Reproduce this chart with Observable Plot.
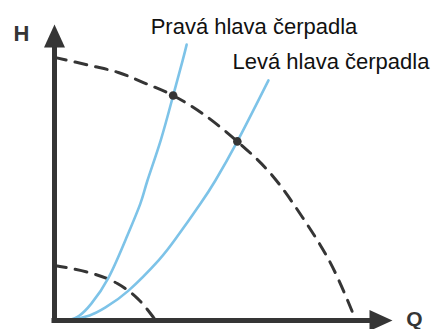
<!DOCTYPE html>
<html>
<head>
<meta charset="utf-8">
<script src="https://cdn.jsdelivr.net/npm/d3@7"></script>
<script src="https://cdn.jsdelivr.net/npm/@observablehq/plot@0.6"></script>
<style>
  html, body { margin: 0; padding: 0; background: #fff; }
  #chart svg { display: block; }
</style>
</head>
<body>
<div id="chart"></div>
<script>
// Pump curves (dashed): Q, H
const pumpBigQ   = [0, 1.07, 1.89, 2.63, 3.51, 4.38, 5.41, 6.39, 7.34, 8.17, 8.82, 8.91];
const pumpBigH   = [8.89, 8.61, 8.38, 8.04, 7.60, 6.99, 6.05, 4.97, 3.48, 1.93, 0.27, 0];
const pumpSmallQ = [0, 1.12, 1.86, 2.46, 2.93, 2.99];
const pumpSmallH = [1.86, 1.59, 1.25, 0.74, 0.10, 0];

// System curves (blue)
const seriesNames = ["Pravá hlava čerpadla", "Levá hlava čerpadla"];
const pravaQ = [0.41, 0.74, 1.09, 1.60, 2.13, 2.54, 2.75, 3.14, 3.51, 3.79, 3.91];
const pravaH = [0, 0.17, 0.57, 1.45, 2.80, 3.95, 4.73, 6.08, 7.60, 8.78, 9.32];
const levaQ  = [0.41, 1.04, 1.51, 2.19, 3.08, 3.61, 4.32, 4.76, 5.41, 6.33];
const levaH  = [0, 0.17, 0.44, 1.01, 2.03, 2.80, 3.95, 4.73, 6.05, 8.11];

// Operating points (intersections)
const opQ = [3.51, 5.41];
const opH = [7.60, 6.05];

// Axis labels
const axisLabelX = "Q";
const axisLabelY = "H";

const toPts = (qs, hs) => qs.map((q, i) => ({Q: q, H: hs[i]}));
const pumps = [toPts(pumpBigQ, pumpBigH), toPts(pumpSmallQ, pumpSmallH)];
const systems = [toPts(pravaQ, pravaH), toPts(levaQ, levaH)];
const sysRows = systems.flatMap((pts, k) => pts.map(p => ({...p, name: seriesNames[k]})));
const pumpRows = pumps.flatMap((pts, k) => pts.map(p => ({...p, id: k})));
const labelRows = systems.map((pts, k) => ({...pts[pts.length - 1], name: seriesNames[k]}));
const opRows = toPts(opQ, opH);

const dark = "#353535";
const blue = "#7dc3e8";

const arrowUp = {draw(ctx) { ctx.moveTo(0, 0); ctx.lineTo(10.5, 23); ctx.lineTo(-10.5, 23); ctx.closePath(); }};
const arrowRight = {draw(ctx) { ctx.moveTo(0, 0); ctx.lineTo(-23, 10.5); ctx.lineTo(-23, -10.5); ctx.closePath(); }};

const xMax = 10, yMax = 10;

const chart = Plot.plot({
  width: 431,
  height: 329,
  marginLeft: 54,
  marginRight: 39,
  marginTop: 24,
  marginBottom: 9,
  x: {domain: [0, xMax], axis: null},
  y: {domain: [0, yMax], axis: null},
  style: {background: "#fff", overflow: "visible"},
  marks: [
    Plot.line(pumpRows, {x: "Q", y: "H", z: "id", stroke: dark, strokeWidth: 3, strokeDasharray: "12,9", curve: "catmull-rom"}),
    Plot.line(sysRows, {x: "Q", y: "H", z: "name", stroke: blue, strokeWidth: 2.6, curve: "natural"}),
    Plot.dot(opRows, {x: "Q", y: "H", r: 4.3, fill: dark, stroke: "none"}),
    Plot.ruleX([0], {y1: 0, y2: yMax * 0.95, stroke: dark, strokeWidth: 5, strokeLinecap: "square"}),
    Plot.ruleY([0], {x1: 0, x2: xMax * 0.95, stroke: dark, strokeWidth: 5, strokeLinecap: "square"}),
    Plot.dot([{Q: 0, H: yMax}], {x: "Q", y: "H", symbol: arrowUp, fill: dark, stroke: "none"}),
    Plot.dot([{Q: xMax, H: 0}], {x: "Q", y: "H", symbol: arrowRight, fill: dark, stroke: "none"}),
    Plot.text(labelRows, {x: "Q", y: "H", text: "name", textAnchor: "start", lineAnchor: "bottom", dx: -36, dy: -11, fontSize: 22, fontFamily: "Liberation Sans, Arial, sans-serif", fill: "#111"}),
    Plot.text([axisLabelY], {x: () => 0, y: () => yMax, text: d => d, dx: -33, dy: 9, textAnchor: "middle", lineAnchor: "middle", fontSize: 22, fontWeight: "bold", fontFamily: "Liberation Sans, Arial, sans-serif", fill: dark}),
    Plot.text([axisLabelX], {x: () => xMax, y: () => 0, text: d => d, dx: 22, dy: -1, textAnchor: "middle", lineAnchor: "middle", fontSize: 21, fontWeight: "bold", fontFamily: "Liberation Sans, Arial, sans-serif", fill: dark})
  ]
});
document.getElementById("chart").appendChild(chart);
</script>
</body>
</html>
